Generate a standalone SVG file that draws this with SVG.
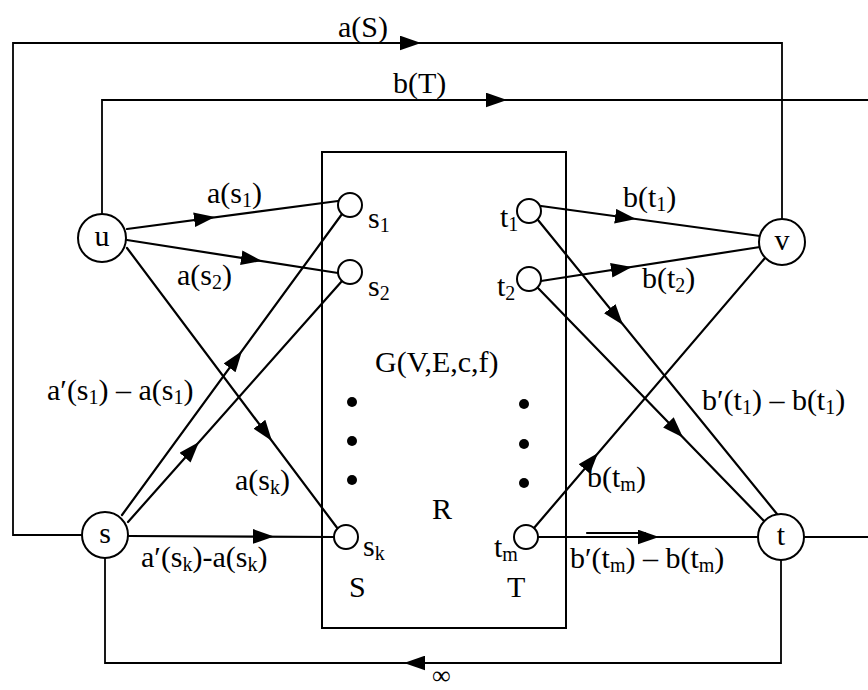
<svg xmlns="http://www.w3.org/2000/svg" width="868" height="690" viewBox="0 0 868 690">
<style>
.ln{fill:none;stroke:#000;stroke-width:2.2;stroke-linecap:round;stroke-linejoin:miter}
.lp{fill:none;stroke:#000;stroke-width:1.8}
.arr{fill:none;stroke:none;marker-end:url(#ah)}
.nd{fill:#fff;stroke:#000;stroke-width:2}
.sn{fill:#fff;stroke:#000;stroke-width:2}
.dot{fill:#000}
text{font-family:"Liberation Serif","Times New Roman",serif;font-size:30px;fill:#000}
.c{text-anchor:middle}
.sb{font-size:20px}
</style>
<defs>
<marker id="ah" markerUnits="userSpaceOnUse" viewBox="0 0 20 14" refX="20" refY="7" markerWidth="21" markerHeight="15" orient="auto">
<path d="M0,0 L20,7 L0,14 z" fill="#000"/>
</marker>
</defs>
<rect x="0" y="0" width="868" height="690" fill="#fff"/>

<g id="box">
<rect x="322" y="152" width="244" height="476" fill="none" stroke="#000" stroke-width="2"/>
<text x="375" y="372">G(V,E,c,f)</text>
<text x="432" y="519">R</text>
<text x="349" y="597">S</text>
<text x="507" y="597">T</text>
<circle class="dot" cx="352" cy="402" r="5"/>
<circle class="dot" cx="352" cy="441" r="5"/>
<circle class="dot" cx="352" cy="480" r="5"/>
<circle class="dot" cx="524" cy="404" r="5"/>
<circle class="dot" cx="524" cy="444" r="5"/>
<circle class="dot" cx="524" cy="483" r="5"/>
</g>

<g id="connectors">
<path class="lp" d="M82,535 L13,535 L13,43 L782,43 L782,219"/>
<path class="arr" d="M401,43 L421,43"/>
<path class="lp" d="M102,214 L102,100 L868,100"/>
<path class="arr" d="M487,100 L507,100"/>
<path class="lp" d="M781,560 L781,663 L105,663 L105,558"/>
<path class="arr" d="M424,663 L404,663"/>
<path class="lp" d="M804,537 L868,537"/>

<path class="ln" d="M127,229 L338,201"/>
<path class="arr" d="M195.2,219.6 L215,217"/>
<path class="ln" d="M127,240 L338,273"/>
<path class="arr" d="M242.2,257.9 L262,261"/>
<path class="ln" d="M127,248 L338,529"/>
<path class="arr" d="M260,425 L272,441"/>

<path class="ln" d="M122,515 L342,214"/>
<path class="arr" d="M230.2,367.1 L242,351"/>
<path class="ln" d="M128,522 L342,281"/>
<path class="arr" d="M185.7,457 L199,442"/>
<path class="ln" d="M128,536 L334,537"/>
<path class="arr" d="M254,536.4 L274,536.5"/>

<path class="ln" d="M541,206 L760,236"/>
<path class="arr" d="M616.2,216.3 L636,219"/>
<path class="ln" d="M541,281 L760,247"/>
<path class="arr" d="M612.2,270.1 L632,267"/>
<path class="ln" d="M538,220 L777,514"/>
<path class="arr" d="M610.4,309.5 L623,325"/>
<path class="ln" d="M538,288 L764,521"/>
<path class="arr" d="M669.1,423.1 L683,437.5"/>
<path class="ln" d="M534,528 L765,258"/>
<path class="arr" d="M585,468.2 L598,453"/>
<path class="ln" d="M538,537 L758,537"/>
<path class="ln" d="M587,533 L645,533"/>
<path class="arr" d="M639,537 L659,537"/>
</g>

<g id="labels">
<text x="338" y="37">a(S)</text>
<text x="393" y="93">b(T)</text>
<text x="207" y="203">a(s<tspan class="sb" dy="4">1</tspan><tspan dy="-4">)</tspan></text>
<text x="177" y="285">a(s<tspan class="sb" dy="4">2</tspan><tspan dy="-4">)</tspan></text>
<text x="47" y="400">a′(s<tspan class="sb" dy="4">1</tspan><tspan dy="-4">) – a(s</tspan><tspan class="sb" dy="4">1</tspan><tspan dy="-4">)</tspan></text>
<text x="235" y="490">a(s<tspan class="sb" dy="4">k</tspan><tspan dy="-4">)</tspan></text>
<text x="141" y="567">a′(s<tspan class="sb" dy="4">k</tspan><tspan dy="-4">)-a(s</tspan><tspan class="sb" dy="4">k</tspan><tspan dy="-4">)</tspan></text>
<text x="623" y="207">b(t<tspan class="sb" dy="4">1</tspan><tspan dy="-4">)</tspan></text>
<text x="642" y="288">b(t<tspan class="sb" dy="4">2</tspan><tspan dy="-4">)</tspan></text>
<text x="702" y="410">b′(t<tspan class="sb" dy="4">1</tspan><tspan dy="-4">) – b(t</tspan><tspan class="sb" dy="4">1</tspan><tspan dy="-4">)</tspan></text>
<text x="587" y="487">b(t<tspan class="sb" dy="4">m</tspan><tspan dy="-4">)</tspan></text>
<text x="570" y="568">b′(t<tspan class="sb" dy="4">m</tspan><tspan dy="-4">) – b(t</tspan><tspan class="sb" dy="4">m</tspan><tspan dy="-4">)</tspan></text>
<text x="432" y="684" style="font-size:26px">∞</text>
</g>

<g id="node-u"><circle class="nd" cx="102" cy="238" r="24"/><text class="c" x="102" y="246">u</text></g>
<g id="node-v"><circle class="nd" cx="782" cy="242" r="23"/><text class="c" x="782" y="250">v</text></g>
<g id="node-s"><circle class="nd" cx="105" cy="535" r="23"/><text class="c" x="105" y="543">s</text></g>
<g id="node-t"><circle class="nd" cx="781" cy="537" r="23"/><text class="c" x="781" y="545">t</text></g>

<g id="node-s1"><circle class="sn" cx="350" cy="205" r="12"/><text x="368" y="228">s<tspan class="sb" dy="4">1</tspan></text></g>
<g id="node-s2"><circle class="sn" cx="350" cy="272" r="12"/><text x="368" y="296">s<tspan class="sb" dy="4">2</tspan></text></g>
<g id="node-sk"><circle class="sn" cx="346" cy="537" r="12"/><text x="363" y="556">s<tspan class="sb" dy="4">k</tspan></text></g>
<g id="node-t1"><circle class="sn" cx="529" cy="211" r="12"/><text x="500" y="227">t<tspan class="sb" dy="4">1</tspan></text></g>
<g id="node-t2"><circle class="sn" cx="529" cy="279" r="12"/><text x="497" y="296">t<tspan class="sb" dy="4">2</tspan></text></g>
<g id="node-tm"><circle class="sn" cx="526" cy="537" r="12"/><text x="494" y="557">t<tspan class="sb" dy="4">m</tspan></text></g>
</svg>
